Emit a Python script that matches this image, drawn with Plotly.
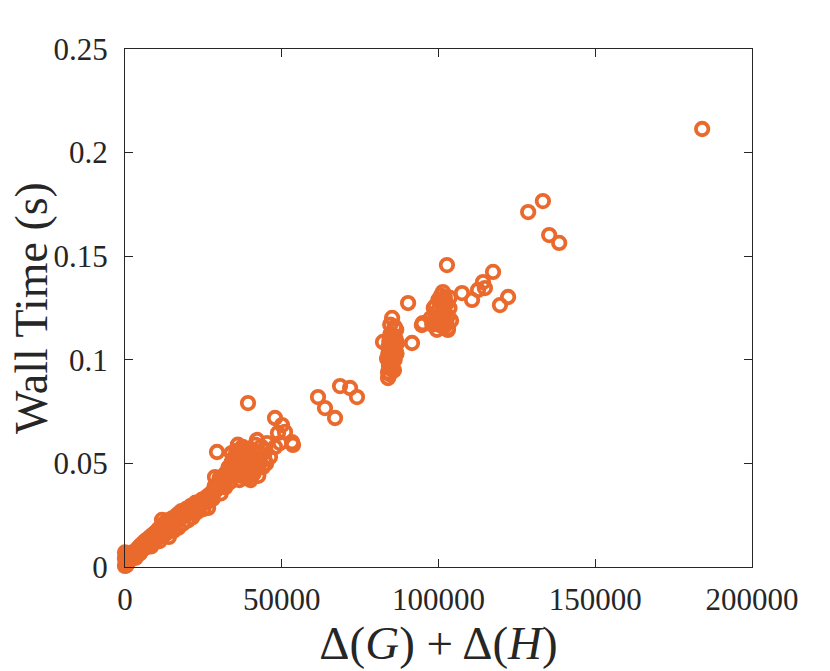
import plotly.graph_objects as go

# Dense band near origin (Δ(G)+Δ(H), wall time in s)
band_x = [0, 0, 0, 150, 300, 300, 500, 700, 900, 1000, 1100, 1300, 1500, 1800, 2000, 2300,
          2600, 2900, 3200, 3500, 3800, 4100, 4400, 4700, 5000, 5300, 5700, 6000, 6400,
          6800, 7200, 7600, 8000, 8400, 8800, 9200, 9600, 10000, 10500, 11000, 11500,
          12000, 12500, 13000, 13500, 14000, 14500, 15000, 15500, 16000, 16500, 17000,
          17500, 18000, 18500, 19000, 19500, 20000, 20500, 21000, 21500, 22000, 22500,
          23000, 24000, 24500, 25000, 26000, 26500, 27000, 28000, 28700, 29000, 29350,
          30000, 30500, 31000, 32000, 33000, 26160, 24560, 11800]
band_y = [0.0005, 0.004, 0.007, 0.001, 0.0015, 0.006, 0.0008, 0.0025, 0.002, 0.0065, 0.0035,
          0.003, 0.0045, 0.004, 0.0055, 0.005, 0.0065, 0.0045, 0.0075, 0.006, 0.0085, 0.007,
          0.0095, 0.0065, 0.0105, 0.008, 0.0115, 0.009, 0.0125, 0.0095, 0.0135, 0.011,
          0.0145, 0.010, 0.0155, 0.012, 0.0165, 0.0135, 0.018, 0.0125, 0.0195, 0.015, 0.021,
          0.016, 0.0225, 0.0145, 0.019, 0.0235, 0.0175, 0.021, 0.025, 0.019, 0.0235, 0.027,
          0.021, 0.025, 0.028, 0.0225, 0.026, 0.0295, 0.024, 0.028, 0.031, 0.0265, 0.030,
          0.0325, 0.028, 0.0315, 0.0285, 0.035, 0.033, 0.0434, 0.037, 0.0555, 0.040, 0.0355,
          0.042, 0.0385, 0.044, 0.0323, 0.0309, 0.0227]

band2_x = [600, 1600, 2400, 3400, 4200, 5200, 6200, 7000, 7800, 8600, 9400, 10200, 11000,
           11800, 12600, 13400, 14200, 15000, 15800, 16600, 17400, 18200, 19000, 19800,
           20600, 21400, 22200, 23000, 23800, 24600, 25400, 26200, 27000, 27800, 28600,
           29400, 30200, 31500]
band2_y = [0.004, 0.0035, 0.007, 0.0045, 0.0085, 0.0095, 0.0105, 0.0115, 0.0125, 0.0125,
           0.014, 0.0155, 0.0165, 0.017, 0.018, 0.0195, 0.021, 0.020, 0.0225, 0.022, 0.026,
           0.024, 0.027, 0.0265, 0.028, 0.027, 0.0295, 0.030, 0.0285, 0.031, 0.033, 0.034,
           0.032, 0.036, 0.039, 0.038, 0.043, 0.040]

# Cluster around 33000-54000
blob_x = [33500, 34000, 34500, 35000, 35500, 36000, 36500, 37000, 37500, 38000, 38500, 39000,
          39500, 40000, 40500, 41000, 41500, 42000, 42100, 43000, 44000, 44500, 45300, 46250,
          36000, 38000, 40000, 37000, 35000, 39000, 41000, 43000, 34000, 47850, 48800, 49450,
          47850, 50080, 51040, 53270, 53590, 39240]
blob_y = [0.041, 0.047, 0.052, 0.044, 0.056, 0.049, 0.042, 0.054, 0.058, 0.046, 0.051, 0.043,
          0.056, 0.048, 0.053, 0.045, 0.059, 0.050, 0.0613, 0.055, 0.0483, 0.052, 0.0598,
          0.0531, 0.059, 0.0565, 0.042, 0.050, 0.050, 0.0525, 0.055, 0.0508, 0.055, 0.0579,
          0.0647, 0.0598, 0.0719, 0.0685, 0.0652, 0.0603, 0.0589, 0.0791]

blob2_x = [34500, 35500, 36500, 37500, 38500, 39500, 40500, 41500, 42500, 36000, 38000, 40000,
           37000, 39000, 41000, 42000, 35000, 36000, 38000, 40000, 43500, 44800, 37500, 39500,
           33000, 32000, 34000, 42500, 45000, 36800]
blob2_y = [0.045, 0.047, 0.051, 0.047, 0.044, 0.050, 0.046, 0.052, 0.048, 0.054, 0.053, 0.057,
           0.044, 0.047, 0.049, 0.054, 0.053, 0.045, 0.049, 0.051, 0.058, 0.056, 0.0525, 0.0445,
           0.048, 0.045, 0.0505, 0.044, 0.050, 0.0565]

# Cluster around 61000-74000
mid_x = [61570, 63800, 67000, 68600, 71800, 74000]
mid_y = [0.0820, 0.0767, 0.0719, 0.0873, 0.0864, 0.0820]

# Cluster around 82000-95000
col_x = [83900, 83900, 84200, 84500, 84000, 84800, 85200, 85500, 84300, 85800, 86200, 86500,
         85200, 82300, 86800, 84700, 83600, 85000, 86000, 91550, 90300, 94700,
         84500, 85000, 85500, 86000, 84000, 85300, 86300, 84600, 85800, 86600]
col_y = [0.0912, 0.0940, 0.0970, 0.100, 0.103, 0.106, 0.098, 0.103, 0.109, 0.111, 0.105,
         0.1145, 0.1202, 0.1086, 0.108, 0.1125, 0.1005, 0.0955, 0.100, 0.1081, 0.1274, 0.1168,
         0.093, 0.102, 0.108, 0.116, 0.106, 0.112, 0.110, 0.117, 0.095, 0.103]

# Cluster around 95000-104000
hi_x = [98000, 99000, 100000, 100500, 101000, 101400, 102000, 102500, 103000, 103000, 101500,
        100000, 99500, 102700, 102000, 103500, 98500, 95000, 100800,
        97500, 99000, 100500, 101500, 102500, 103000, 104000, 100000, 98500, 101000, 102000,
        103500, 99800]
hi_y = [0.117, 0.121, 0.124, 0.119, 0.127, 0.1327, 0.122, 0.118, 0.1144, 0.1153, 0.116,
        0.129, 0.1145, 0.1457, 0.130, 0.125, 0.125, 0.1177, 0.131,
        0.120, 0.126, 0.128, 0.125, 0.127, 0.121, 0.119, 0.117, 0.1185, 0.122, 0.1165,
        0.130, 0.1205]

# Sparse upper points
top_x = [107500, 110700, 112600, 114200, 114800, 117400, 119600, 122200, 128600, 133300,
         135300, 138500, 184100]
top_y = [0.1322, 0.1289, 0.1337, 0.1375, 0.1346, 0.1424, 0.1264, 0.1303, 0.1713, 0.1766,
         0.1602, 0.1564, 0.2114]

x_ticks = [0, 50000, 100000, 150000, 200000]
x_tick_labels = ["0", "50000", "100000", "150000", "200000"]
y_ticks = [0, 0.05, 0.1, 0.15, 0.2, 0.25]
y_tick_labels = ["0", "0.05", "0.1", "0.15", "0.2", "0.25"]
y_title = "Wall Time (s)"

xs = band_x + band2_x + blob_x + blob2_x + mid_x + col_x + hi_x + top_x
ys = band_y + band2_y + blob_y + blob2_y + mid_y + col_y + hi_y + top_y

orange = "#EA6A2D"
axis_col = "#262626"
font_family = "Liberation Serif"

fig = go.Figure()
fig.add_trace(go.Scatter(
    x=xs, y=ys, mode="markers", cliponaxis=False,
    marker=dict(symbol="circle-open", size=12.5, color=orange,
                line=dict(width=3.8, color=orange)),
    showlegend=False,
))

axis_common = dict(
    showline=True, linecolor=axis_col, linewidth=1.3, mirror="ticks",
    ticks="inside", ticklen=8, tickwidth=1.3, tickcolor=axis_col,
    showgrid=False, zeroline=False, automargin=False,
    tickfont=dict(family=font_family, size=31, color=axis_col),
)

fig.update_xaxes(range=[0, 200000], tickvals=x_ticks, ticktext=x_tick_labels,
                 title=dict(text="Δ(<i>G</i>) + Δ(<i>H</i>)",
                            font=dict(family=font_family, size=47, color=axis_col),
                            standoff=4),
                 ticklabelstandoff=5,
                 **axis_common)
fig.update_yaxes(range=[0, 0.25], tickvals=y_ticks, ticktext=y_tick_labels,
                 ticklabelstandoff=10,
                 **axis_common)

# y-axis title as a rotated annotation so it can sit close to the page edge
fig.add_annotation(
    text=y_title, textangle=-90, showarrow=False,
    xref="paper", yref="paper", x=-0.150, y=0.5,
    xanchor="center", yanchor="middle",
    font=dict(family=font_family, size=46, color=axis_col),
)

fig.update_layout(
    width=830, height=671,
    margin=dict(l=117, r=86, t=41, b=112),
    paper_bgcolor="white", plot_bgcolor="white",
)

fig.write_html("out.html")
